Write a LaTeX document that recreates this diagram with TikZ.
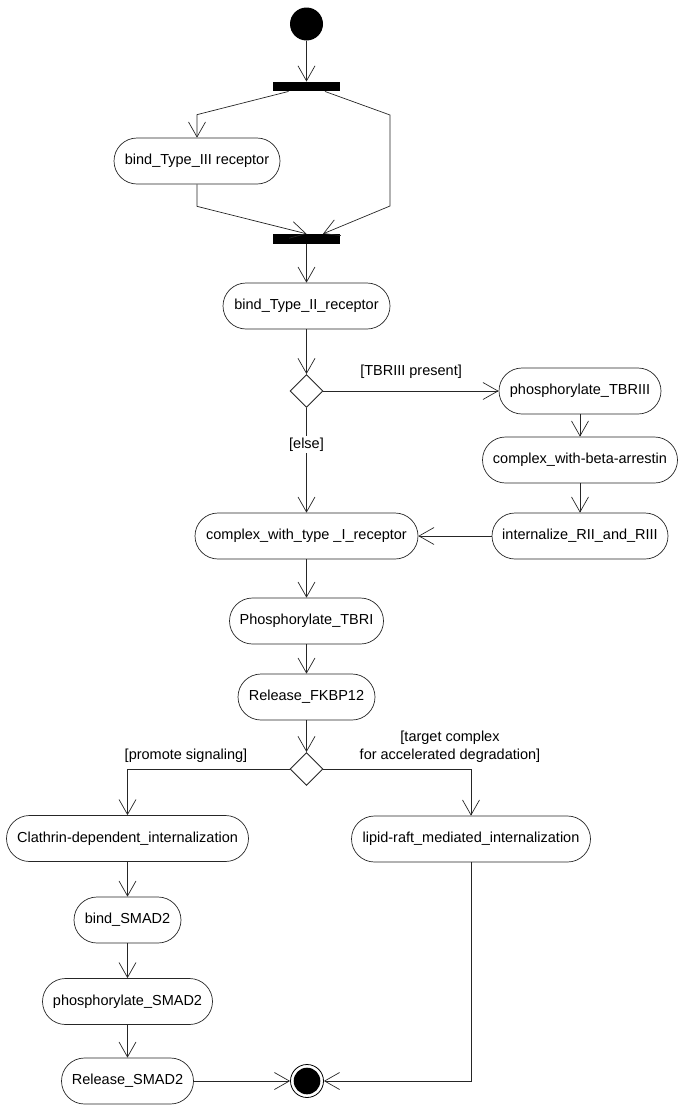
\documentclass[tikz,border=0pt]{standalone}
\usepackage{fontspec}
\setmainfont{Liberation Sans}
\usetikzlibrary{arrows.meta,shapes.geometric,calc}
\begin{document}
\begin{tikzpicture}[x=1pt,y=-1pt,
  txt/.style={font=\fontsize{14.5}{18}\selectfont},
  act/.style={txt, draw=black!85, rounded corners=23pt, minimum height=46pt, inner sep=0pt, line width=0.7pt},
  bar/.style={fill=black, minimum width=67pt, minimum height=9.5pt, inner sep=0pt},
  dec/.style={diamond, draw=black!85, minimum width=33pt, minimum height=33pt, inner sep=0pt, line width=0.9pt},
  flow/.style={draw=black!85, line width=0.7pt, -{Straight Barb[length=15pt,width=17pt,line width=0.7pt]}},
  plain/.style={draw=black!85, line width=0.7pt},
  lbl/.style={txt, inner sep=1.5pt}]
\useasboundingbox (0,0) rectangle (685,1111);
% nodes
\node[circle, fill=black, minimum size=33pt, inner sep=0pt] (start) at (306.5,24) {};
\node[bar] (fork) at (306.5,86.5) {};
\node[act, minimum width=166pt] (b3) at (197,161) {bind\_Type\_III receptor};
\node[bar, minimum height=10pt] (join) at (306.5,239) {};
\node[act, minimum width=167pt] (b2) at (306.5,306) {bind\_Type\_II\_receptor};
\node[dec] (d1) at (306.5,391) {};
\node[act, minimum width=162pt] (p3) at (580,391) {phosphorylate\_TBRIII};
\node[act, minimum width=195pt] (ba) at (580,460) {complex\_with-beta-arrestin};
\node[act, minimum width=176pt] (ir) at (580,536) {internalize\_RII\_and\_RIII};
\node[act, minimum width=223pt] (c1) at (306.5,536) {complex\_with\_type \_I\_receptor};
\node[act, minimum width=154pt] (p1) at (306.5,621) {Phosphorylate\_TBRI};
\node[act, minimum width=137pt] (rf) at (306.5,697) {Release\_FKBP12};
\node[dec] (d2) at (306.5,769) {};
\node[lbl] (lps) at (186,756) {[promote signaling]};
\node[lbl, align=center] (ltc) at (450,747) {[target complex\\for accelerated degradation]};
\node[act, minimum width=242pt] (cl) at (127.5,838.5) {Clathrin-dependent\_internalization};
\node[act, minimum width=239pt] (lr) at (471,839) {lipid-raft\_mediated\_internalization};
\node[act, minimum width=107pt] (bs) at (127.5,920) {bind\_SMAD2};
\node[act, minimum width=170pt] (ps) at (127.5,1001.5) {phosphorylate\_SMAD2};
\node[act, minimum width=132pt] (rs) at (127.5,1081) {Release\_SMAD2};
\node[circle, draw=black, minimum size=33pt, inner sep=0pt, line width=0.8pt] (end) at (307,1081) {};
\fill[black] (end.center) circle[radius=13.3pt];
\coordinate (rc1) at (390,115);
\coordinate (rc2) at (390,206);
% connectors
\draw[flow] (start) -- (fork);
\draw[flow] ([xshift=-18pt]fork.south) -- ($(b3.north)+(0,-23)$) -- (b3.north);
\draw[flow] ([xshift=18.5pt]fork.south) -- (rc1) -- (rc2) -- ([xshift=16.5pt]join.north);
\draw[flow] (b3.south) -- ($(b3.south)+(0,22)$) -- (join.north);
\draw[flow] (join) -- (b2);
\draw[flow] (b2) -- (d1);
\draw[flow] (d1) -- node[lbl, midway, yshift=19pt] {[TBRIII present]} (p3);
\draw[flow] (d1) -- node[lbl, fill=white, pos=0.35] {[else]} (c1);
\draw[flow] (p3) -- (ba);
\draw[flow] (ba) -- (ir);
\draw[flow] (ir) -- (c1);
\draw[flow] (c1) -- (p1);
\draw[flow] (p1) -- (rf);
\draw[flow] (rf) -- (d2);
\draw[flow] (d2.west) -| (cl.north);
\draw[flow] (d2.east) -| (lr.north);
\draw[flow] (cl) -- (bs);
\draw[flow] (bs) -- (ps);
\draw[flow] (ps) -- (rs);
\draw[flow] (rs) -- (end);
\draw[flow] (lr.south) |- (end.east);
\end{tikzpicture}
\end{document}
